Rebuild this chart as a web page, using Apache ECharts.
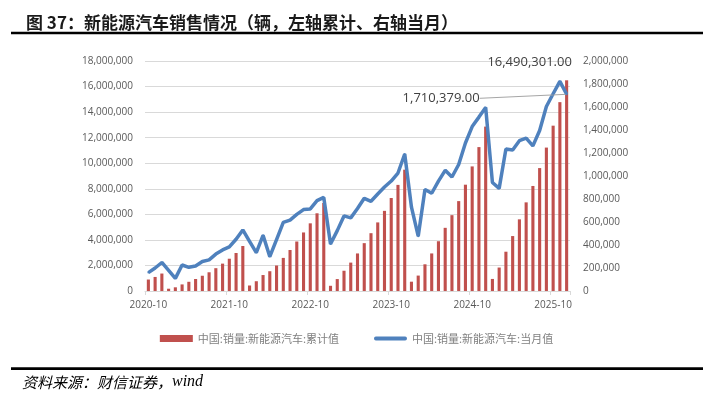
<!DOCTYPE html>
<html>
<head>
<meta charset="utf-8">
<script src="https://cdn.jsdelivr.net/npm/echarts@6/dist/echarts.min.js"></script>
<style>
html,body{margin:0;padding:0;background:#fff;}
#chart{width:713px;height:402px;}
</style>
</head>
<body>
<div id="chart"></div>
<script>
var categories = [
'2020-10','2020-11','2020-12',
'2021-01','2021-02','2021-03','2021-04','2021-05','2021-06','2021-07','2021-08','2021-09','2021-10','2021-11','2021-12',
'2022-01','2022-02','2022-03','2022-04','2022-05','2022-06','2022-07','2022-08','2022-09','2022-10','2022-11','2022-12',
'2023-01','2023-02','2023-03','2023-04','2023-05','2023-06','2023-07','2023-08','2023-09','2023-10','2023-11','2023-12',
'2024-01','2024-02','2024-03','2024-04','2024-05','2024-06','2024-07','2024-08','2024-09','2024-10','2024-11','2024-12',
'2025-01','2025-02','2025-03','2025-04','2025-05','2025-06','2025-07','2025-08','2025-09','2025-10','2025-11','2025-12'
];
var cumulative = [
898000,1100000,1367000,
179000,289000,515000,721000,938000,1194000,1465000,1786000,2143000,2526000,2976000,3521000,
431000,765000,1249000,1548000,1995000,2591000,3208000,3874000,4582000,5296000,6082000,6887000,
408000,933000,1586000,2222000,2939000,3745000,4525000,5368000,6272000,7280000,8304000,9495000,
729000,1207000,2090000,2940000,3895000,4944000,5935000,7035000,8320000,9750000,11262000,12866000,
944000,1836000,3075000,4300000,5608000,6937000,8220000,9620000,11224000,12939000,14780000,16490301
];
var monthly = [
160000,200000,248000,
179000,110000,226000,206000,217000,256000,271000,321000,357000,383000,450000,531000,
431000,334000,484000,299000,447000,596000,617000,666000,708000,714000,786000,814000,
408000,525000,653000,636000,717000,806000,780000,843000,904000,956000,1026000,1191000,
729000,477000,883000,850000,955000,1049000,991000,1100000,1287000,1430000,1512000,1596000,
944000,892000,1235000,1226000,1307000,1329000,1262000,1395000,1604000,1715000,1823000,1710379
];
var seriesNames = ['中国:销量:新能源汽车:累计值','中国:销量:新能源汽车:当月值'];

function fmt(v){ return Number(v).toLocaleString('en-US'); }
function fmt2(v){ return Number(v).toLocaleString('en-US',{minimumFractionDigits:2,maximumFractionDigits:2}); }

var last = categories.length - 1;
var barData = cumulative.map(function(v,i){
  if(i===last){
    return {value:v,label:{show:true,position:'top',distance:5,offset:[-37,-6],
      formatter:function(p){return fmt2(p.value);},
      fontFamily:'Open Sans',fontSize:13,color:'#404040'}};
  }
  return v;
});
var lineData = monthly.map(function(v,i){
  if(i===last){
    return {value:v,
      label:{show:true,position:'left',distance:5,
        formatter:function(p){return fmt2(p.value);},
        fontFamily:'Open Sans',fontSize:13,color:'#404040'},
      labelLine:{show:true,lineStyle:{color:'#a6a6a6',width:1}}};
  }
  return v;
});

var chart = echarts.init(document.getElementById('chart'));
chart.setOption({
  animation:false,
  backgroundColor:'#fff',
  title:{
    text:'图 37：新能源汽车销售情况（辆，左轴累计、右轴当月）',
    left:21, top:9,
    textStyle:{fontFamily:'Noto Sans CJK SC',fontSize:17,fontWeight:'bold',color:'#1a1a1a'}
  },
  graphic:[
    {type:'line',shape:{x1:11,y1:33,x2:703,y2:33},style:{stroke:'#000',lineWidth:2.5},silent:true},
    {type:'line',shape:{x1:11,y1:368.7,x2:703,y2:368.7},style:{stroke:'#000',lineWidth:2.7},silent:true},
    {type:'text',left:22,top:374,style:{
      text:'{a|资料来源：财信证券，}{b|wind}',
      rich:{
        a:{fontFamily:'Noto Sans CJK SC',fontSize:15,fontStyle:'italic',fill:'#000'},
        b:{fontFamily:'Liberation Serif',fontSize:16,fontStyle:'italic',fill:'#000'}
      }
    }}
  ],
  legend:{
    top:328,
    left:'center',
    itemGap:35,
    itemWidth:33,
    itemHeight:7,
    textStyle:{fontFamily:'Noto Sans CJK SC',fontSize:11,color:'#808080'},
    data:[
      {name:seriesNames[0],icon:'rect'},
      {name:seriesNames[1],icon:'path://M2,0 L33,0 A2,2 0 0 1 33,4 L2,4 A2,2 0 0 1 2,0 Z',itemStyle:{color:'#4f81bd',opacity:1}}
    ]
  },
  grid:{left:145,right:143,top:61,bottom:111},
  xAxis:{
    type:'category',
    data:categories,
    boundaryGap:true,
    axisLine:{show:true,lineStyle:{color:'#d9d9d9'}},
    axisTick:{show:true,interval:11,length:4,lineStyle:{color:'#d9d9d9'}},
    axisLabel:{interval:11,margin:9,fontFamily:'Open Sans',fontSize:10,color:'#595959'}
  },
  yAxis:[
    {type:'value',min:0,max:18000000,interval:2000000,
      axisLine:{show:false},axisTick:{show:false},
      splitLine:{show:true,lineStyle:{color:'#d9d9d9',width:1}},
      axisLabel:{margin:12,fontFamily:'Open Sans',fontSize:10,color:'#595959',formatter:fmt}},
    {type:'value',min:0,max:2000000,interval:200000,
      axisLine:{show:false},axisTick:{show:false},
      splitLine:{show:false},
      axisLabel:{margin:13,fontFamily:'Open Sans',fontSize:10,color:'#595959',formatter:fmt}}
  ],
  series:[
    {name:seriesNames[0],type:'bar',yAxisIndex:0,data:barData,barWidth:'46%',
      itemStyle:{color:'#c0504d'}},
    {name:seriesNames[1],type:'line',yAxisIndex:1,data:lineData,showSymbol:true,symbol:'circle',symbolSize:2,
      lineStyle:{color:'#4f81bd',width:3.5},itemStyle:{color:'#4f81bd'},
      labelLayout:function(p){
        if(p.dataIndex===last){ return {dx:-81,dy:4}; }
        return {};
      }}
  ]
});
</script>
</body>
</html>
